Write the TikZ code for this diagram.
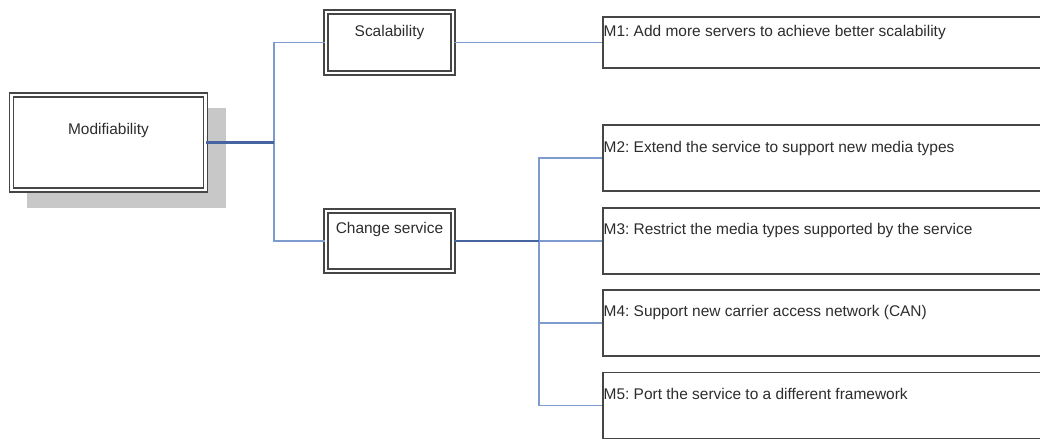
\documentclass[tikz,border=0pt]{standalone}
\usepackage{fontspec}
\setmainfont{Liberation Sans}
\usepackage{tikz}
\usepackage{xcolor}
\usetikzlibrary{calc,positioning}

\newcommand\pxu{0.025cm}
\definecolor{linkblue}{RGB}{125,155,205}
\definecolor{linkdark}{RGB}{70,100,160}
\definecolor{framegray}{RGB}{70,70,70}
\definecolor{shadowgray}{RGB}{200,200,200}
\definecolor{textgray}{RGB}{45,45,45}

\tikzset{
  dblbox/.style={draw=framegray, double=white, double distance=2pt, line width=1pt, fill=white, inner sep=0pt},
  mbox/.style={draw=framegray, line width=0.9pt, fill=white, inner sep=0pt, minimum width=447*\pxu, minimum height=#1*\pxu},
  boxtext/.style={text=textgray, inner sep=0pt, font=\fontsize{11}{13}\selectfont\frenchspacing},
  mtext/.style={boxtext, anchor=west},
  link/.style={draw=linkblue, line width=0.8pt},
  trunk/.style={draw=linkdark, line width=1.5pt}
}

\begin{document}
\begin{tikzpicture}[x=0.025cm,y=-0.025cm]
  \useasboundingbox (0,0) rectangle (1040,439);

  % Root box with shadow
  \fill[shadowgray] (27,108) rectangle (226,208);
  \node[dblbox, minimum width=194*\pxu, minimum height=95*\pxu] (mod) at (108.5,142.5) {};
  \node[boxtext] (modtxt) at ([shift={(0,-11.5)}]mod.center) {Modifiability};

  % Second level
  \node[dblbox, minimum width=127*\pxu, minimum height=61*\pxu] (scal) at (389.5,42.5) {};
  \node[boxtext] (scaltxt) at ([shift={(0,-10)}]scal.center) {Scalability};
  \node[dblbox, minimum width=127*\pxu, minimum height=60*\pxu] (chg) at (389.5,241) {};
  \node[boxtext] (chgtxt) at ([shift={(0,-11)}]chg.center) {Change service};

  % Leaves
  \node[mbox=51] (m1) at (826.5,42.5) {};
  \node[mbox=66] (m2) at (826.5,158) {};
  \node[mbox=66] (m3) at (826.5,241) {};
  \node[mbox=66] (m4) at (826.5,323) {};
  \node[mbox=66] (m5) at (826.5,405.5) {};

  \node[mtext] (m1txt) at ([shift={(1,16)}]m1.north west) {M1: Add more servers to achieve better scalability};
  \node[mtext] (m2txt) at ([shift={(1,24)}]m2.north west) {M2: Extend the service to support new media types};
  \node[mtext] (m3txt) at ([shift={(1,23)}]m3.north west) {M3: Restrict the media types supported by the service};
  \node[mtext] (m4txt) at ([shift={(1,23)}]m4.north west) {M4: Support new carrier access network (CAN)};
  \node[mtext] (m5txt) at ([shift={(1,22)}]m5.north west) {M5: Port the service to a different framework};

  % Connectors
  \coordinate (j1) at (274,142.5);
  \coordinate (j2) at (539,241);
  \draw[link] (j1) |- (scal.west);
  \draw[link] (j1) |- (chg.west);
  \draw[trunk] (mod.east) -- (j1);
  \draw[link] (scal.east) -- (m1.west);
  \draw[link] (j2) |- (m2.west);
  \draw[link] (j2) -- (m3.west);
  \draw[link] (j2) |- (m4.west);
  \draw[link] (j2) |- (m5.west);
  \draw[trunk] (chg.east) -- (j2);
\end{tikzpicture}
\end{document}
